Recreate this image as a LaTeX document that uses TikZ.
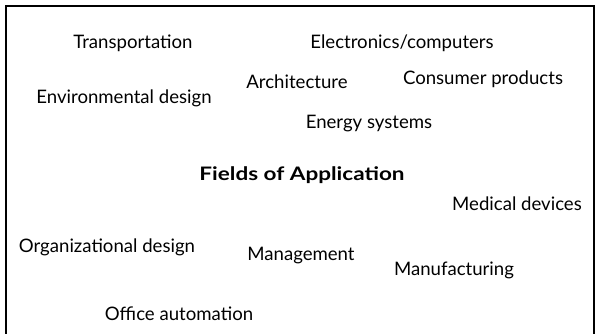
\documentclass[tikz,border=0pt]{standalone}
\usepackage{fontspec}
\setmainfont{Lato}
\begin{document}
\begin{tikzpicture}[x=1pt,y=-1pt,
  lbl/.style={anchor=base,inner sep=0pt,font=\fontsize{18.6}{22}\selectfont},
  ttl/.style={anchor=base,inner sep=0pt,font=\fontsize{18.6}{22}\selectfont\bfseries}]
\useasboundingbox (0,0) rectangle (597,334);
\draw[line width=2pt] (6,334) -- (6,6) -- (594,6) -- (594,334);
\node[lbl] (trans) at (133,49) {Transportation};
\node[lbl] (elec) at (402,49) {Electronics/computers};
\node[lbl] (arch) at (297,89) {Architecture};
\node[lbl] (cons) at (483,85) {Consumer products};
\node[lbl] (env) at (124,104) {Environmental design};
\node[lbl] (energy) at (369,129) {Energy systems};
\node[ttl] (title) at (302,180) {\scalebox{1.21}[1]{Fields of Application}};
\node[lbl] (med) at (517,210) {Medical devices};
\node[lbl] (org) at (107,252) {Organizational design};
\node[lbl] (mgmt) at (301,260) {Management};
\node[lbl] (manu) at (454,275) {Manufacturing};
\node[lbl] (office) at (179,320) {Office automation};
\end{tikzpicture}
\end{document}
